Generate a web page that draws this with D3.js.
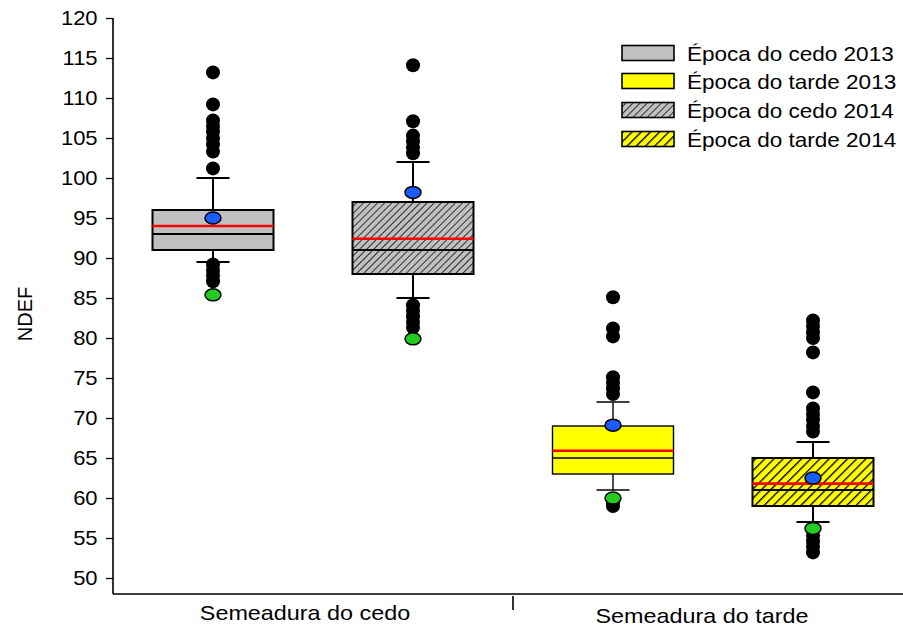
<!DOCTYPE html>
<html>
<head>
<meta charset="utf-8">
<script src="https://cdn.jsdelivr.net/npm/d3@7"></script>
<style>
  html, body { margin: 0; padding: 0; background: #fff; }
  svg { display: block; font-family: "Liberation Sans", Arial, sans-serif; }
</style>
</head>
<body>
<svg id="chart" width="903" height="628"></svg>
<script>
// ---- data ----
const groups = ["Semeadura do cedo", "Semeadura do tarde"];
const seriesNames = ["Época do cedo 2013", "Época do tarde 2013", "Época do cedo 2014", "Época do tarde 2014"];
// boxes left to right: cedo 2013, cedo 2014, tarde 2013, tarde 2014
const boxKeys   = ["Época do cedo 2013", "Época do cedo 2014", "Época do tarde 2013", "Época do tarde 2014"];
const q1        = [91, 88, 63, 59];
const medians   = [93, 91, 65, 61];
const q3        = [96, 97, 69, 65];
const whiskLow  = [89.5, 85, 61, 57];
const whiskHigh = [100, 102, 72, 67];
const means     = [94, 92.4, 65.9, 61.8];
const blueMarks = [95, 98.2, 69.1, 62.5];
const greenMarks= [85.4, 79.9, 60, 56.2];
const outliers  = [
  [113.2, 109.2, 107.2, 106.5, 105.8, 105, 104.2, 103.3, 101.2, 89.2, 88.5, 87.8, 87.1],
  [114.1, 107.1, 105.3, 104.6, 103.8, 103.1, 84.1, 83.4, 82.7, 82.0, 81.3],
  [85.1, 81.2, 80.2, 75.1, 74.4, 73.7, 73.0, 59.4, 59.0],
  [82.2, 81.5, 80.7, 80.0, 78.2, 73.2, 71.2, 70.5, 69.8, 69.0, 68.3, 55.3, 54.6, 53.9, 53.2]
];
const yTicks = [50, 55, 60, 65, 70, 75, 80, 85, 90, 95, 100, 105, 110, 115, 120];

// ---- styling per series ----
const fills = {
  "Época do cedo 2013": "#c0c0c0",
  "Época do tarde 2013": "#ffff00",
  "Época do cedo 2014": "url(#hatchGray)",
  "Época do tarde 2014": "url(#hatchYellow)"
};

const svg = d3.select("#chart");
const defs = svg.append("defs");

function hatch(id, bg, gap, lw) {
  const p = defs.append("pattern")
    .attr("id", id).attr("patternUnits", "userSpaceOnUse")
    .attr("width", gap).attr("height", gap)
    .attr("patternTransform", "rotate(45)");
  p.append("rect").attr("width", gap).attr("height", gap).attr("fill", bg);
  p.append("line").attr("x1", 0).attr("y1", 0).attr("x2", 0).attr("y2", gap)
    .attr("stroke", "#000").attr("stroke-width", lw);
}
hatch("hatchGray", "#c0c0c0", 5, 1.5);
hatch("hatchYellow", "#ffff00", 6.5, 2.7);

// ---- scales ----
const plotLeft = 113, plotRight = 913, plotBottom = 594, plotTop = 18;
const x = d3.scaleBand().domain(boxKeys).range([plotLeft, plotRight]).paddingInner(0).paddingOuter(0);
const xg = d3.scaleBand().domain(groups).range([plotLeft, plotRight]);
const y = d3.scaleLinear().domain([48, 120]).range([plotBottom, plotTop]);
const boxW = x.bandwidth() * 0.605;
const capW = 33;

// ---- axes ----
const yAxis = d3.axisLeft(y).tickValues(yTicks).tickSize(7).tickPadding(6).tickFormat(d3.format("d"));
const gy = svg.append("g").attr("transform", `translate(${plotLeft},0)`).call(yAxis);
gy.select(".domain").attr("d", `M0,${y(120)}V${plotBottom}`).attr("stroke", "#000").attr("stroke-width", 1.6);
gy.selectAll(".tick line").attr("stroke", "#000").attr("stroke-width", 1.3);
gy.selectAll(".tick text").attr("font-size", 20).attr("fill", "#000")
  .attr("font-family", "Liberation Sans, Arial, sans-serif")
  .attr("transform", "scale(1.1,1)").attr("x", -14);

svg.append("line").attr("x1", plotLeft).attr("x2", 903).attr("y1", plotBottom).attr("y2", plotBottom)
  .attr("stroke", "#000").attr("stroke-width", 1.6);
// group separator tick
svg.append("line")
  .attr("x1", xg(groups[1])).attr("x2", xg(groups[1]))
  .attr("y1", plotBottom + 2).attr("y2", plotBottom + 16)
  .attr("stroke", "#000").attr("stroke-width", 1.6);

const gLabelDx = [-8, -11], gLabelY = [620, 623];
svg.selectAll(".glabel").data(groups).enter().append("text")
  .attr("class", "glabel")
  .attr("transform", (d, i) => `translate(${xg(d) + xg.bandwidth() / 2 + gLabelDx[i]},${gLabelY[i]}) scale(1.14,1)`)
  .attr("text-anchor", "middle").attr("font-size", 20.5).attr("fill", "#000")
  .text(d => d);

svg.append("text")
  .attr("transform", `translate(32,${(y(120) + plotBottom) / 2 + 8}) rotate(-90)`)
  .attr("text-anchor", "middle").attr("font-size", 20).attr("fill", "#000")
  .text("NDEF");

// ---- boxes ----
const boxes = svg.append("g");
boxKeys.forEach((k, i) => {
  const cx = x(k) + x.bandwidth() / 2;
  const g = boxes.append("g");
  const lw = k.includes("tarde 2013") ? 1.4 : 2;
  // whiskers
  g.append("line").attr("x1", cx).attr("x2", cx).attr("y1", y(q3[i])).attr("y2", y(whiskHigh[i]))
    .attr("stroke", "#000").attr("stroke-width", lw);
  g.append("line").attr("x1", cx).attr("x2", cx).attr("y1", y(q1[i])).attr("y2", y(whiskLow[i]))
    .attr("stroke", "#000").attr("stroke-width", lw);
  [whiskHigh[i], whiskLow[i]].forEach(v => {
    g.append("line").attr("x1", cx - capW / 2).attr("x2", cx + capW / 2).attr("y1", y(v)).attr("y2", y(v))
      .attr("stroke", "#000").attr("stroke-width", lw);
  });
  // box
  g.append("rect").attr("x", cx - boxW / 2).attr("width", boxW)
    .attr("y", y(q3[i])).attr("height", y(q1[i]) - y(q3[i]))
    .attr("fill", fills[k]).attr("stroke", "#000").attr("stroke-width", lw);
  // median
  g.append("line").attr("x1", cx - boxW / 2).attr("x2", cx + boxW / 2)
    .attr("y1", y(medians[i])).attr("y2", y(medians[i]))
    .attr("stroke", "#000").attr("stroke-width", lw);
  // mean
  g.append("line").attr("x1", cx - boxW / 2).attr("x2", cx + boxW / 2)
    .attr("y1", y(means[i])).attr("y2", y(means[i]))
    .attr("stroke", "#ff0000").attr("stroke-width", 2.6);
  // outliers
  g.selectAll(".out").data(outliers[i]).enter().append("circle")
    .attr("cx", cx).attr("cy", d => y(d)).attr("r", 7).attr("fill", "#000");
  // percentile markers
  g.append("ellipse").attr("cx", cx).attr("cy", y(greenMarks[i])).attr("rx", 8).attr("ry", 6)
    .attr("fill", "#22cc22").attr("stroke", "#000").attr("stroke-width", 1.5);
  g.append("ellipse").attr("cx", cx).attr("cy", y(blueMarks[i])).attr("rx", 8).attr("ry", 6)
    .attr("fill", "#1a5cff").attr("stroke", "#000").attr("stroke-width", 1.5);
});

// ---- legend ----
const legend = svg.append("g");
const legY = [53, 81, 110, 139];
seriesNames.forEach((s, i) => {
  legend.append("rect").attr("x", 622).attr("y", legY[i] - 7.5).attr("width", 52).attr("height", 15)
    .attr("fill", fills[s]).attr("stroke", "#000").attr("stroke-width", 1.6);
  legend.append("text").attr("transform", `translate(687,${legY[i] + 7.5}) scale(1.1,1)`)
    .attr("font-size", 20.5).attr("fill", "#000").text(s);
});
</script>
</body>
</html>
